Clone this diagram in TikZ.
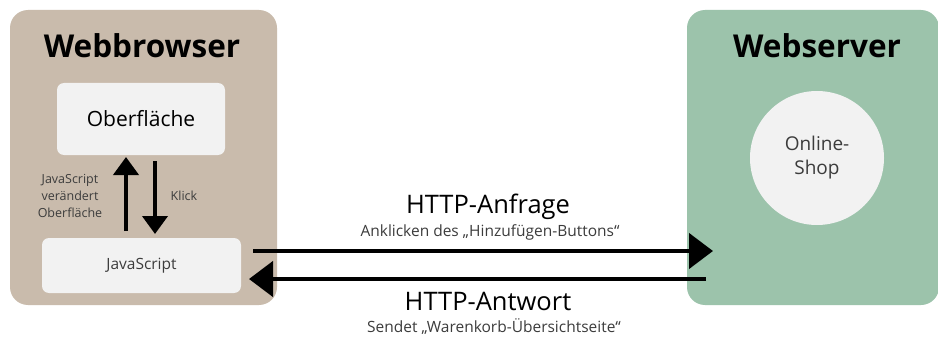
\documentclass[tikz,border=0pt]{standalone}
\usepackage{fontspec}
\setmainfont{Open Sans}
\usetikzlibrary{arrows.meta}
\definecolor{browsertan}{RGB}{201,187,172}
\definecolor{servergreen}{RGB}{156,195,171}
\definecolor{panelwhite}{RGB}{242,242,242}
\definecolor{labelgray}{RGB}{60,60,60}
\tikzset{
  container/.style={fill=#1, draw=none, rounded corners=18pt, inner sep=0pt},
  panel/.style={fill=panelwhite, draw=none, rounded corners=7pt, inner sep=0pt},
  heading/.style={font=\fontsize{31.5}{33}\selectfont\bfseries, text=black},
  sublabel/.style={font=\fontsize{15.5}{17}\selectfont, text=labelgray, align=center},
  flowlabel/.style={font=\fontsize{25.5}{27}\selectfont, text=black},
  inner/.style={-{Triangle[width=25pt,length=18pt]}, line width=4pt},
  msg/.style={-{Triangle[width=35pt,length=24pt]}, line width=4.5pt}
}
\begin{document}
\begin{tikzpicture}[x=1pt,y=-1pt]
  \useasboundingbox (0,0) rectangle (938,337);
  \fill[white] (0,0) rectangle (938,337);

  % browser side
  \node[container=browsertan, minimum width=267pt, minimum height=295pt] (browser) at (143.5,157.5) {};
  \node[heading] (browsertitle) at (142,46) {Webbrowser};
  \node[panel, minimum width=168pt, minimum height=72pt, font=\fontsize{21}{23}\selectfont] (ui) at (141,119) {Oberfläche};
  \node[panel, minimum width=199pt, minimum height=55pt, font=\fontsize{15.5}{17}\selectfont, text=labelgray] (js) at (141.5,265.5) {JavaScript};

  \coordinate (upS) at (126,231);
  \coordinate (upE) at (126,157);
  \coordinate (dnS) at (155,161);
  \coordinate (dnE) at (155,234);
  \draw[inner] (upS) -- (upE);
  \draw[inner] (dnS) -- (dnE);
  \node[sublabel, font=\fontsize{12.5}{17}\selectfont] (jslabel) at (70,196) {JavaScript\\verändert\\Oberfläche};
  \node[sublabel, font=\fontsize{12.5}{17}\selectfont] (klick) at (184,196) {Klick};

  % server side
  \node[container=servergreen, minimum width=252pt, minimum height=295pt] (server) at (813,157.5) {};
  \node[heading] (servertitle) at (817,46) {Webserver};
  \node[circle, fill=panelwhite, minimum size=134pt, inner sep=0pt, align=center,
        font=\fontsize{19}{24}\selectfont, text=labelgray] (shop) at (817,158) {Online-\\Shop};

  % request / response
  \coordinate (reqS) at (253,251);
  \coordinate (reqE) at (713,251);
  \coordinate (resS) at (706,279);
  \coordinate (resE) at (249,279);
  \draw[msg] (reqS) -- (reqE);
  \draw[msg] (resS) -- (resE);

  \node[flowlabel] (req) at (488,207) {HTTP-Anfrage};
  \node[sublabel] (reqtext) at (490,232) {Anklicken des „Hinzufügen-Buttons“};
  \node[flowlabel] (res) at (488,301) {HTTP-Antwort};
  \node[sublabel] (restext) at (494,327) {Sendet „Warenkorb-Übersichtseite“};
\end{tikzpicture}
\end{document}
